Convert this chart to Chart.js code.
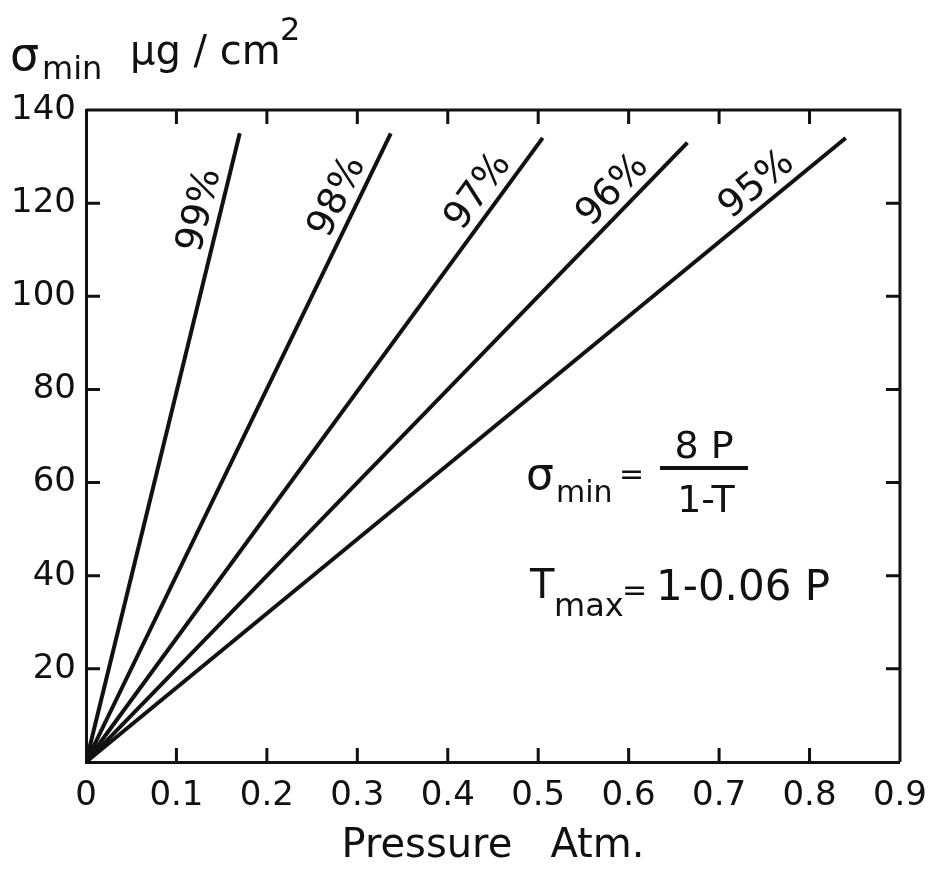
<!DOCTYPE html>
<html>
<head>
<meta charset="utf-8">
<script src="https://cdn.jsdelivr.net/npm/chart.js@4/dist/chart.umd.min.js"></script>
<style>
  html, body { margin: 0; padding: 0; background: #fff; }
  #wrap { width: 941px; height: 873px; }
</style>
</head>
<body>
<div id="wrap"><canvas id="chart"></canvas></div>
<script>
// transmission level of each line
const seriesLabels = ['99%', '98%', '97%', '96%', '95%'];
// every line starts at the origin (pressure in atm, sigma in ug/cm2)
const lineStartP = [0, 0, 0, 0, 0];
const lineStartSigma = [0, 0, 0, 0, 0];
// end point of each line
const lineEndP = [0.17, 0.337, 0.505, 0.665, 0.84];
const lineEndSigma = [135, 135, 134, 133, 134];
// axis ticks
const xTickValues = [0, 0.1, 0.2, 0.3, 0.4, 0.5, 0.6, 0.7, 0.8, 0.9];
const yTickValues = [20, 40, 60, 80, 100, 120, 140];

const FONT = "'DejaVu Sans', sans-serif";
const INK = '#111';

// build the datasets from the arrays above
const datasets = seriesLabels.map((lab, i) => ({
    label: lab,
    data: [
        { x: lineStartP[i], y: lineStartSigma[i] },
        { x: lineEndP[i], y: lineEndSigma[i] },
    ],
    borderColor: INK,
    borderWidth: 4,
    pointRadius: 0,
    tension: 0,
    fill: false,
}));

// draws the frame, inward ticks, line labels and the text on the plot
const decorPlugin = {
    id: 'decor',
    afterDatasetsDraw(chart, args, opts) {
        const ctx = chart.ctx;
        const xs = chart.scales.x, ys = chart.scales.y;
        const a = chart.chartArea;
        ctx.save();
        ctx.strokeStyle = INK;
        ctx.fillStyle = INK;

        // top and right side of the frame
        ctx.lineWidth = 3;
        ctx.beginPath();
        ctx.moveTo(a.left, a.top);
        ctx.lineTo(a.right, a.top);
        ctx.lineTo(a.right, a.bottom);
        ctx.stroke();

        // inward tick marks on all four sides
        const t = 14;
        ctx.lineWidth = 3;
        xTickValues.slice(1, -1).forEach(v => {
            const px = xs.getPixelForValue(v);
            ctx.beginPath();
            ctx.moveTo(px, a.bottom); ctx.lineTo(px, a.bottom - t);
            ctx.moveTo(px, a.top); ctx.lineTo(px, a.top + t);
            ctx.stroke();
        });
        yTickValues.slice(0, -1).forEach(v => {
            const py = ys.getPixelForValue(v);
            ctx.beginPath();
            ctx.moveTo(a.left, py); ctx.lineTo(a.left + t, py);
            ctx.moveTo(a.right, py); ctx.lineTo(a.right - t, py);
            ctx.stroke();
        });

        // percentage labels along each line
        ctx.font = '38px ' + FONT;
        ctx.textAlign = 'center';
        ctx.textBaseline = 'alphabetic';
        seriesLabels.forEach((lab, i) => {
            const x0 = xs.getPixelForValue(lineStartP[i]), y0 = ys.getPixelForValue(lineStartSigma[i]);
            const x1 = xs.getPixelForValue(lineEndP[i]), y1 = ys.getPixelForValue(lineEndSigma[i]);
            const ang = Math.atan2(y1 - y0, x1 - x0);
            const f = opts.labelFrac[i];
            ctx.save();
            ctx.translate(x0 + (x1 - x0) * f, y0 + (y1 - y0) * f);
            ctx.rotate(ang);
            ctx.fillText(lab, 0, -10);
            ctx.restore();
        });

        // formula block
        ctx.textAlign = 'left';
        ctx.font = '44px ' + FONT;
        ctx.fillText('σ', 526, 489);
        ctx.font = '30px ' + FONT;
        ctx.fillText('min', 556, 502);
        ctx.font = '30px ' + FONT;
        ctx.fillText('=', 619, 484);
        ctx.lineWidth = 4;
        ctx.beginPath();
        ctx.moveTo(660, 468); ctx.lineTo(748, 468);
        ctx.stroke();
        ctx.textAlign = 'center';
        ctx.font = '38px ' + FONT;
        ctx.fillText('8 P', 704, 458);
        ctx.fillText('1-T', 706, 512);

        ctx.textAlign = 'left';
        ctx.font = '40px ' + FONT;
        ctx.fillText('T', 530, 598);
        ctx.font = '32px ' + FONT;
        ctx.fillText('max', 554, 616);
        ctx.font = '30px ' + FONT;
        ctx.fillText('=', 622, 600);
        ctx.font = '42px ' + FONT;
        ctx.fillText('1-0.06 P', 656, 600);

        // y axis title above the plot
        ctx.font = '46px ' + FONT;
        ctx.fillText('σ', 10, 70);
        ctx.font = '32px ' + FONT;
        ctx.fillText('min', 42, 79);
        ctx.font = '40px ' + FONT;
        ctx.fillText('μg / cm', 130, 64);
        ctx.font = '32px ' + FONT;
        ctx.fillText('2', 280, 40);

        ctx.restore();
    },
};

new Chart(document.getElementById('chart'), {
    type: 'line',
    data: { datasets: datasets },
    options: {
        responsive: true,
        maintainAspectRatio: false,
        animation: false,
        layout: { padding: { top: 110, right: 37, left: 0, bottom: 0 } },
        plugins: {
            legend: { display: false },
            tooltip: { enabled: false },
            decor: { labelFrac: [0.87, 0.885, 0.895, 0.9, 0.9] },
        },
        scales: {
            x: {
                type: 'linear',
                min: 0,
                max: 0.9,
                afterFit: s => { s.height = 111; },
                afterBuildTicks: s => { s.ticks = xTickValues.map(v => ({ value: v })); },
                grid: { display: false, drawTicks: false },
                border: { display: true, color: INK, width: 3 },
                ticks: {
                    color: INK,
                    padding: 14,
                    maxRotation: 0,
                    font: { family: FONT, size: 34 },
                    callback: v => (v === 0 ? '0' : v.toFixed(1)),
                },
                title: {
                    display: true,
                    text: 'Pressure   Atm.',
                    color: INK,
                    font: { family: FONT, size: 40 },
                    padding: { top: 0, bottom: 2 },
                },
            },
            y: {
                min: 0,
                max: 140,
                afterFit: s => { s.width = 86; },
                afterBuildTicks: s => { s.ticks = yTickValues.map(v => ({ value: v })); },
                grid: { display: false, drawTicks: false },
                border: { display: true, color: INK, width: 3 },
                ticks: {
                    color: INK,
                    padding: 10,
                    font: { family: FONT, size: 34 },
                },
            },
        },
    },
    plugins: [decorPlugin],
});
</script>
</body>
</html>
